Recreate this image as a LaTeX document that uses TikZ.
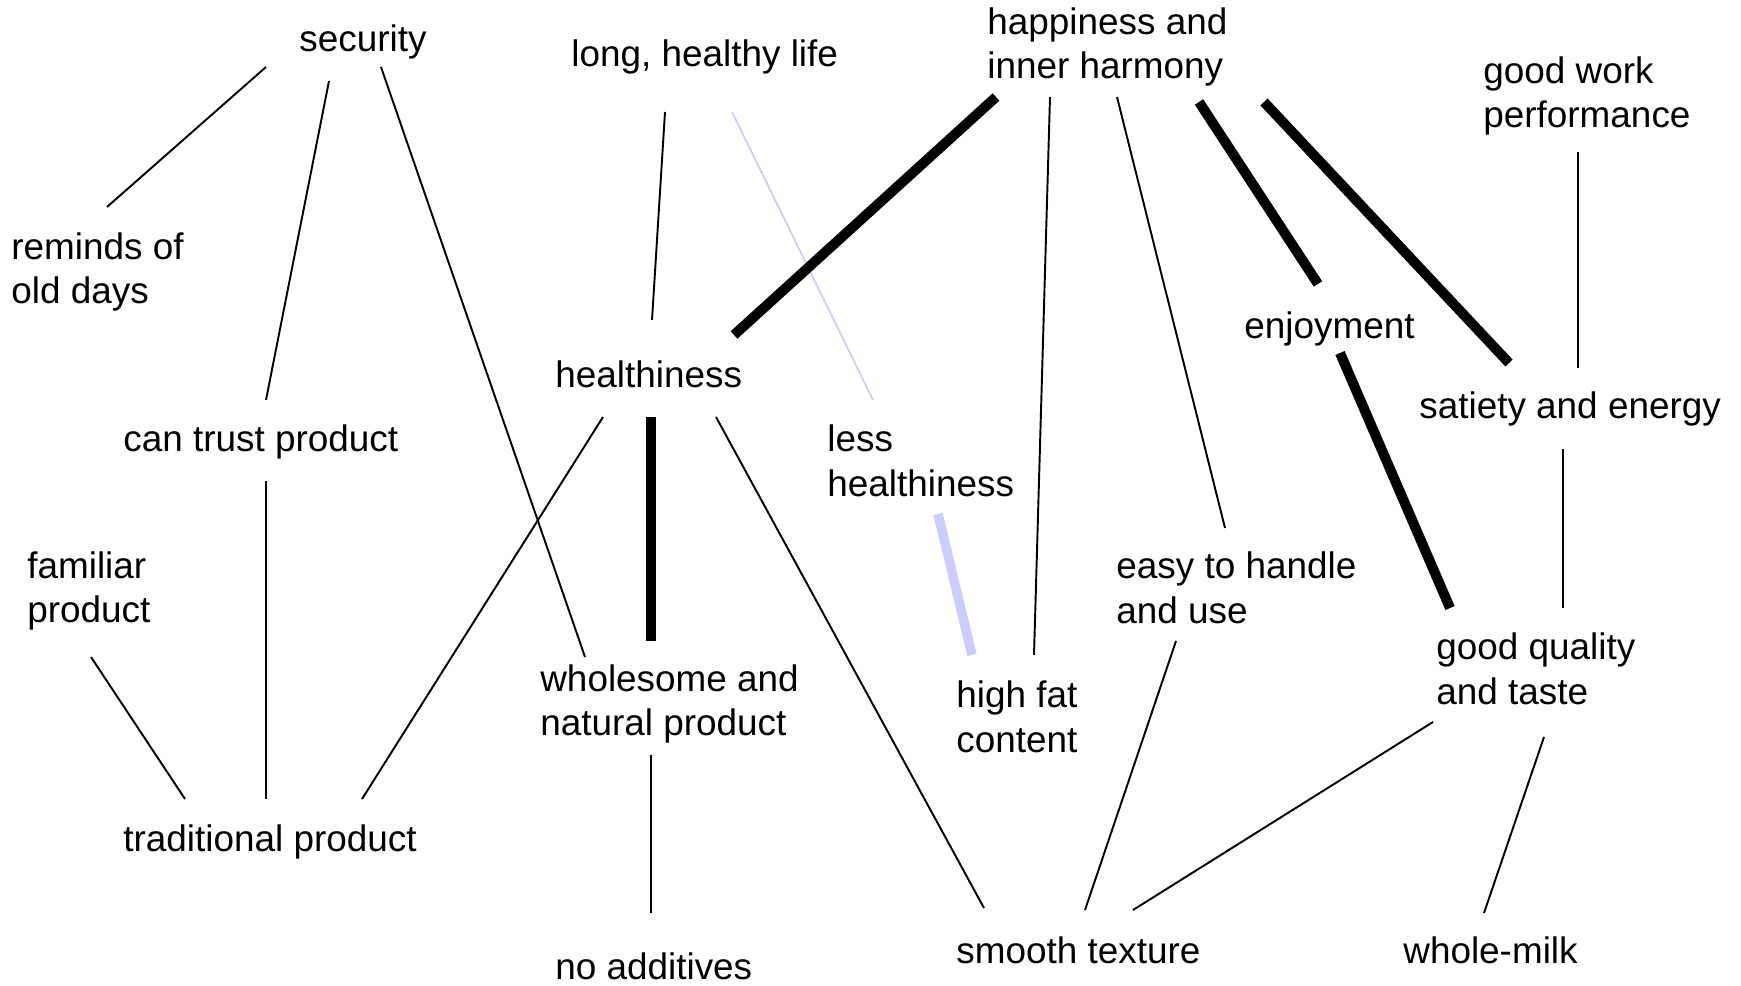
\documentclass[tikz,border=0pt]{standalone}
\usepackage{fontspec}
\setmainfont{Liberation Sans}
\definecolor{paleblue}{RGB}{204,204,255}

\begin{document}
\begin{tikzpicture}[x=0.02cm,y=-0.02cm,
  word/.style={anchor=west,inner sep=0pt,align=left,font=\fontsize{21}{25.3}\selectfont},
  weak/.style={line width=1.1pt},
  strong/.style={line width=5.7pt},
  faint/.style={paleblue,line width=1pt},
  faintstrong/.style={paleblue,line width=5.4pt}]
\useasboundingbox (0,0) rectangle (1741,986);

\node[word] (sec) at (299,42) {security};
\node[word] (life) at (571,57) {long, healthy life};
\node[word] (happy) at (987,47) {happiness and\\inner harmony};
\node[word] (work) at (1483,96) {good work\\performance};
\node[word] (old) at (11,272) {reminds of\\old days};
\node[word] (health) at (555,374) {healthiness};
\node[word] (joy) at (1244,329) {enjoyment};
\node[word] (less) at (827,461) {less\\healthiness};
\node[word] (sat) at (1419,409) {satiety and energy};
\node[word] (trust) at (123,442) {can trust product};
\node[word] (fam) at (27,591) {familiar\\product};
\node[word] (easy) at (1116,588) {easy to handle\\and use};
\node[word] (qual) at (1436,669) {good quality\\and taste};
\node[word] (whole) at (540,704) {wholesome and\\natural product};
\node[word] (fat) at (956,717) {high fat\\content};
\node[word] (trad) at (123,842) {traditional product};
\node[word] (smooth) at (956,950) {smooth texture};
\node[word] (milk) at (1403,950) {whole-milk};
\node[word] (noadd) at (555,966) {no additives};

% line ends
\foreach \n/\p in {sec-old/{266,67}, old-sec/{107,207},
    sec-trust/{329,81}, trust-sec/{266,400},
    sec-whole/{381,67}, whole-sec/{585,657},
    trust-trad/{266,481}, trad-trust/{266,799},
    fam-trad/{91,657}, trad-fam/{185,799},
    health-trad/{603,417}, trad-health/{362,799},
    life-health/{665,112}, health-life/{652,320},
    life-less/{732,112}, less-life/{873,400},
    happy-health/{996,97}, health-happy/{734,335},
    health-whole/{651,417}, whole-health/{651,641},
    health-smooth/{716,417}, smooth-health/{984,908},
    whole-noadd/{651,755}, noadd-whole/{651,913},
    less-fat/{938,514}, fat-less/{972,655},
    happy-fat/{1050,97}, fat-happy/{1034,655},
    happy-easy/{1117,97}, easy-happy/{1225,528},
    happy-joy/{1199,102}, joy-happy/{1318,284},
    happy-sat/{1264,102}, sat-happy/{1509,363},
    work-sat/{1578,152}, sat-work/{1578,368},
    joy-qual/{1340,353}, qual-joy/{1450,608},
    sat-qual/{1563,449}, qual-sat/{1563,608},
    easy-smooth/{1176,641}, smooth-easy/{1085,910},
    qual-smooth/{1433,722}, smooth-qual/{1133,910},
    qual-milk/{1544,737}, milk-qual/{1484,913}}
  \coordinate (\n) at (\p);

\draw[weak] (sec-old)--(old-sec);
\draw[weak] (sec-trust)--(trust-sec);
\draw[weak] (sec-whole)--(whole-sec);
\draw[weak] (trust-trad)--(trad-trust);
\draw[weak] (fam-trad)--(trad-fam);
\draw[weak] (health-trad)--(trad-health);
\draw[weak] (life-health)--(health-life);
\draw[faint] (life-less)--(less-life);
\draw[strong] (happy-health)--(health-happy);
\draw[strong] (health-whole)--(whole-health);
\draw[weak] (health-smooth)--(smooth-health);
\draw[weak] (whole-noadd)--(noadd-whole);
\draw[faintstrong] (less-fat)--(fat-less);
\draw[weak] (happy-fat)--(fat-happy);
\draw[weak] (happy-easy)--(easy-happy);
\draw[strong] (happy-joy)--(joy-happy);
\draw[strong] (happy-sat)--(sat-happy);
\draw[weak] (work-sat)--(sat-work);
\draw[strong] (joy-qual)--(qual-joy);
\draw[weak] (sat-qual)--(qual-sat);
\draw[weak] (easy-smooth)--(smooth-easy);
\draw[weak] (qual-smooth)--(smooth-qual);
\draw[weak] (qual-milk)--(milk-qual);
\end{tikzpicture}
\end{document}
